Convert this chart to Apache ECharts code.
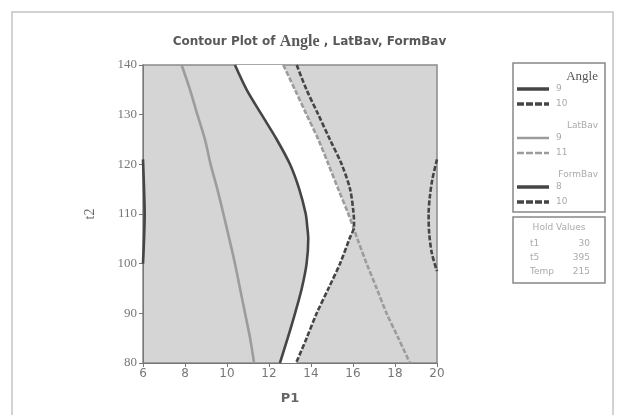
<!DOCTYPE html>
<html>
<head>
<meta charset="utf-8">
<script src="https://cdn.jsdelivr.net/npm/echarts@6/dist/echarts.min.js"></script>
<style>
	html, body { margin: 0; padding: 0; background: #fff; }
	#contour { width: 619px; height: 415px; }
</style>
</head>
<body>
<div id="contour"></div>
<script>
// t2 levels shared by the four long contour lines
var t2Levels = [ 140, 135, 130, 125, 120, 115, 110, 107.5, 105, 100, 95, 90, 85, 80 ];
var angle9 = [ 10.38, 10.94, 11.65, 12.37, 13.0, 13.44, 13.75, 13.82, 13.87, 13.79, 13.56, 13.24, 12.89, 12.52 ];
var angle10 = [ 13.32, 13.79, 14.35, 14.9, 15.46, 15.86, 16.03, 16.05, 15.83, 15.38, 14.83, 14.27, 13.79, 13.29 ];
var latBav9 = [ 7.84, 8.24, 8.59, 8.95, 9.22, 9.54, 9.83, 9.97, 10.11, 10.38, 10.62, 10.86, 11.1, 11.29 ];
var latBav11 = [ 12.68, 13.24, 13.79, 14.35, 14.83, 15.3, 15.78, 16.0, 16.21, 16.65, 17.13, 17.6, 18.16, 18.71 ];

// short arcs at the plot edges
var formBav8T2 = [ 121, 115, 110, 105, 100 ];
var formBav8 = [ 6, 6.05, 6.08, 6.05, 6 ];
var formBav10T2 = [ 121, 117, 113.5, 110, 106, 102, 98.5 ];
var formBav10 = [ 20, 19.78, 19.66, 19.6, 19.63, 19.76, 20 ];

var xTicks = [ 6, 20, 2 ];
var yTicks = [ 80, 140, 10 ];

var legendGroups = [ 'Angle', 'LatBav', 'FormBav' ];
var legendLevels = [ [ '9', '10' ], [ '9', '11' ], [ '8', '10' ] ];
var holdNames = [ 't1', 't5', 'Temp' ];
var holdValues = [ '30', '395', '215' ];

var dark = '#454545';
var light = '#9c9c9c';

function pairs(xs, ys) {
	return ys.map(function(y, i) {
		return [ xs[i], y ];
	});
}

function contourLine(name, xs, ys, color, dashed) {
	return {
		type : 'line',
		name : name,
		data : pairs(xs, ys),
		smooth : 0.3,
		showSymbol : false,
		symbol : 'none',
		clip : false,
		z : 3,
		lineStyle : {
			color : color,
			width : 2.6,
			type : dashed ? [ 5, 2 ] : 'solid'
		}
	};
}

// legend drawn as graphic elements (grouped like the Minitab key)
var legendItems = [];
var yy = 77;
legendGroups.forEach(function(g, gi) {
	legendItems.push({
		type : 'text',
		x : 598, y : yy,
		style : {
			text : g,
			fill : gi === 0 ? '#555' : '#aaa',
			font : gi === 0 ? '13px "Liberation Serif"' : '9px "DejaVu Sans"',
			align : 'right',
			verticalAlign : 'middle'
		}
	});
	yy += 12;
	legendLevels[gi].forEach(function(lv, li) {
		legendItems.push({
			type : 'line',
			shape : { x1 : 517, y1 : yy, x2 : 549, y2 : yy },
			style : {
				stroke : gi === 1 ? light : dark,
				lineWidth : gi === 1 ? 2.5 : 3.5,
				lineDash : li === 1 ? [ 7, 2 ] : null
			}
		});
		legendItems.push({
			type : 'text',
			x : 556, y : yy,
			style : {
				text : lv,
				fill : '#aaa',
				font : '9px "DejaVu Sans"',
				verticalAlign : 'middle'
			}
		});
		yy += 15;
	});
	yy += 7;
});

legendItems.push({
	type : 'rect',
	shape : { x : 513, y : 63, width : 92, height : 149 },
	style : { fill : 'none', stroke : '#888', lineWidth : 1.5 }
});
legendItems.push({
	type : 'rect',
	shape : { x : 513, y : 217, width : 92, height : 66 },
	style : { fill : 'none', stroke : '#888', lineWidth : 1.5 }
});
legendItems.push({
	type : 'text',
	x : 559, y : 228,
	style : {
		text : 'Hold Values',
		fill : '#aaa',
		font : '9px "DejaVu Sans"',
		align : 'center',
		verticalAlign : 'middle'
	}
});
holdNames.forEach(function(n, i) {
	legendItems.push({
		type : 'text',
		x : 530, y : 244 + i * 14,
		style : { text : n, fill : '#aaa', font : '9px "DejaVu Sans"', verticalAlign : 'middle' }
	});
	legendItems.push({
		type : 'text',
		x : 590, y : 244 + i * 14,
		style : { text : holdValues[i], fill : '#aaa', font : '9px "DejaVu Sans"', align : 'right', verticalAlign : 'middle' }
	});
});
legendItems.push({
	type : 'rect',
	shape : { x : 12, y : 12, width : 601, height : 420 },
	style : { fill : 'none', stroke : '#c4c4c4', lineWidth : 1.5 }
});

var chart = echarts.init(document.getElementById('contour'));
var option = {
	animation : false,
	backgroundColor : '#fff',
	title : {
		left : 'center',
		top : 29,
		text : '{a|Contour Plot of }{b|Angle}{a| , LatBav, FormBav}',
		textStyle : {
			rich : {
				a : { fontFamily : 'DejaVu Sans', fontWeight : 'bold', fontSize : 12, color : '#595959' },
				b : { fontFamily : 'Liberation Serif', fontSize : 16, color : '#595959' }
			}
		}
	},
	grid : {
		left : 143,
		right : 182,
		top : 65,
		bottom : 52,
		show : true,
		backgroundColor : '#d5d5d5',
		borderColor : '#8a8a8a',
		borderWidth : 1.5
	},
	xAxis : {
		type : 'value',
		min : xTicks[0],
		max : xTicks[1],
		interval : xTicks[2],
		name : 'P1',
		nameLocation : 'middle',
		nameGap : 29,
		nameTextStyle : { fontFamily : 'DejaVu Sans', fontWeight : 'bold', fontSize : 13, color : '#666' },
		axisLine : { lineStyle : { color : '#777' } },
		axisTick : { length : 4, lineStyle : { color : '#777' } },
		axisLabel : { fontFamily : 'DejaVu Sans', fontSize : 12, color : '#777', margin : 5 },
		splitLine : { show : false }
	},
	yAxis : {
		type : 'value',
		min : yTicks[0],
		max : yTicks[1],
		interval : yTicks[2],
		name : 't2',
		nameLocation : 'middle',
		nameGap : 46,
		nameTextStyle : { fontFamily : 'Liberation Serif', fontSize : 14, color : '#666' },
		axisLine : { show : true, lineStyle : { color : '#777' } },
		axisTick : { show : true, length : 4, lineStyle : { color : '#777' } },
		axisLabel : { fontFamily : 'Liberation Serif', fontSize : 13, color : '#777', margin : 6 },
		splitLine : { show : false }
	},
	graphic : legendItems,
	series : [ {
		// feasible (white) region between Angle 9 and the nearer of LatBav 11 / Angle 10
		type : 'custom',
		data : [ [ 0, 0 ] ],
		z : 1,
		clip : true,
		renderItem : function(params, api) {
			var pts = [];
			t2Levels.forEach(function(y, i) {
				pts.push(api.coord([ angle9[i], y ]));
			});
			for (var i = t2Levels.length - 1; i >= 0; i--) {
				pts.push(api.coord([ Math.min(latBav11[i], angle10[i]), t2Levels[i] ]));
			}
			return {
				type : 'polygon',
				shape : { points : pts, smooth : 0 },
				style : { fill : '#ffffff', stroke : null }
			};
		}
	},
		contourLine('LatBav 9', latBav9, t2Levels, light, false),
		contourLine('LatBav 11', latBav11, t2Levels, light, true),
		contourLine('Angle 9', angle9, t2Levels, dark, false),
		contourLine('Angle 10', angle10, t2Levels, dark, true),
		contourLine('FormBav 8', formBav8, formBav8T2, dark, false),
		contourLine('FormBav 10', formBav10, formBav10T2, dark, true)
	]
};
chart.setOption(option);

window.onresize = function() {
	chart.resize();
}
</script>
</body>
</html>
